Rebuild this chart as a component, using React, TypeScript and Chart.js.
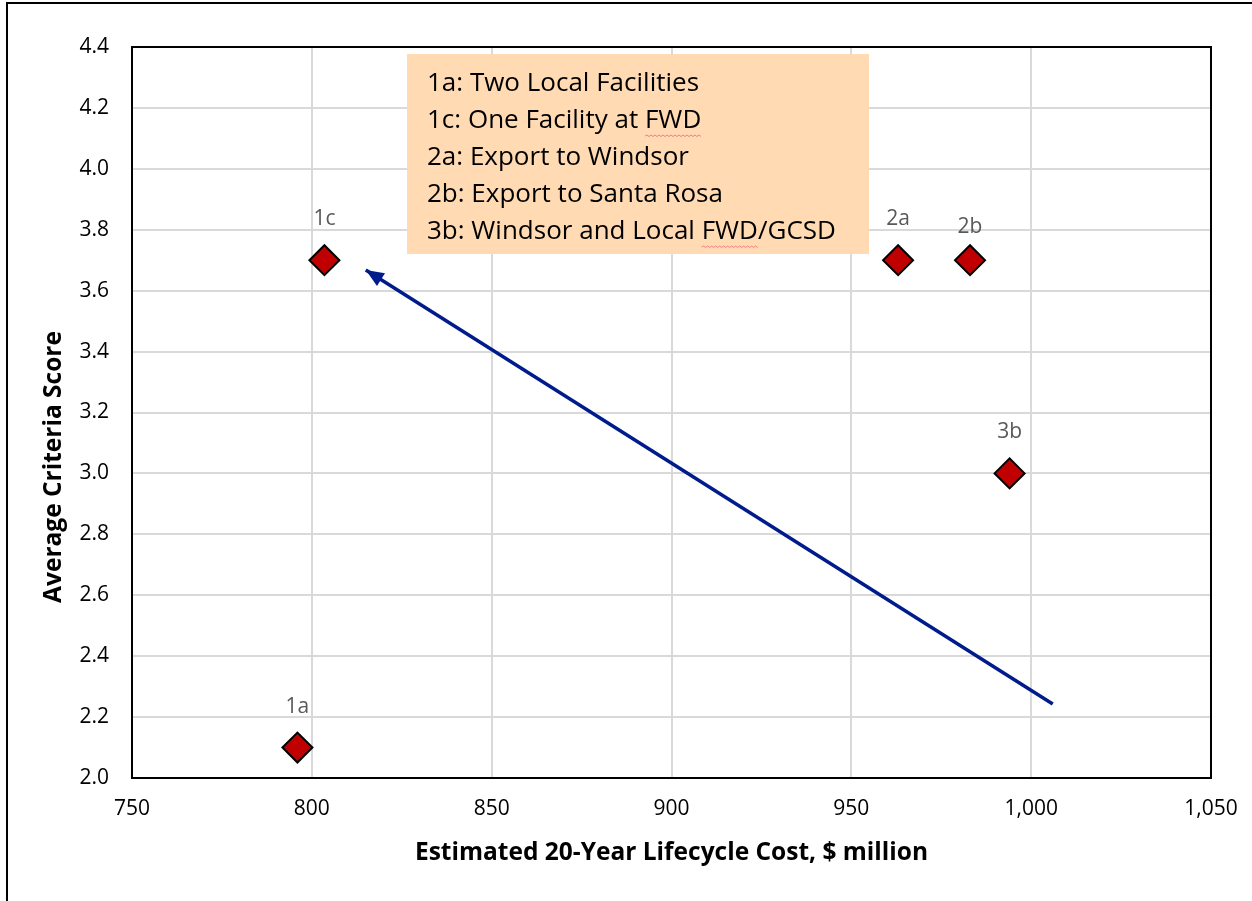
import { useEffect, useRef } from "react";
import { Chart, registerables } from "chart.js";

Chart.register(...registerables);

// Alternatives: code, estimated 20-year lifecycle cost ($ million), average criteria score
const optionCodes = ["1a", "1c", "2a", "2b", "3b"];
const lifecycleCost = [796, 803.5, 963, 983, 994];
const criteriaScore = [2.1, 3.7, 3.7, 3.7, 3.0];

// Text box listing the alternatives
const legendLines = [
  "1a: Two Local Facilities",
  "1c: One Facility at FWD",
  "2a: Export to Windsor",
  "2b: Export to Santa Rosa",
  "3b: Windsor and Local FWD/GCSD",
];

// Trend arrow, tail then head, in axis units
const arrowCost = [1006, 815];
const arrowScore = [2.243, 3.668];

// Axis ranges and steps
const xRange = [750, 1050];
const xStep = 50;
const yRange = [2.0, 4.4];
const yStep = 0.2;

const FONT = "'Open Sans', 'Noto Sans', sans-serif";
const GRID = "#D9D9D9";
const MARKER_FILL = "#C00000";
const ARROW_COLOR = "#001C8C";
const LABEL_COLOR = "#595959";
const BOX_FILL = "#FFDAB3";

// Per-label vertical gap above its marker (px)
const labelGap: Record<string, number> = { "2b": 33 };
const DEFAULT_LABEL_GAP = 41;

const framePlugin = {
  id: "frame",
  beforeDraw(chart: any) {
    const { ctx, width, height } = chart;
    ctx.save();
    ctx.fillStyle = "#fff";
    ctx.fillRect(0, 0, width, height);
    ctx.strokeStyle = "#000";
    ctx.lineWidth = 2;
    ctx.beginPath();
    ctx.moveTo(7, height);
    ctx.lineTo(7, 3);
    ctx.lineTo(width, 3);
    ctx.stroke();
    ctx.restore();
  },
  beforeDatasetsDraw(chart: any) {
    const { ctx, chartArea: a } = chart;
    ctx.save();
    ctx.strokeStyle = "#000";
    ctx.lineWidth = 2;
    ctx.strokeRect(a.left, a.top, a.right - a.left, a.bottom - a.top);
    ctx.restore();
  },
};

const arrowHeadPlugin = {
  id: "arrowHead",
  afterDatasetsDraw(chart: any) {
    const meta = chart.getDatasetMeta(1);
    const pts = meta.data;
    if (!pts || pts.length < 2) return;
    const tail = pts[0];
    const head = pts[1];
    const ang = Math.atan2(head.y - tail.y, head.x - tail.x);
    const len = 18;
    const half = 7.5;
    const { ctx } = chart;
    ctx.save();
    ctx.translate(head.x, head.y);
    ctx.rotate(ang);
    ctx.fillStyle = ARROW_COLOR;
    ctx.beginPath();
    ctx.moveTo(0, 0);
    ctx.lineTo(-len, -half);
    ctx.lineTo(-len, half);
    ctx.closePath();
    ctx.fill();
    ctx.restore();
  },
};

const pointLabelPlugin = {
  id: "pointLabels",
  afterDatasetsDraw(chart: any) {
    const meta = chart.getDatasetMeta(0);
    const { ctx } = chart;
    ctx.save();
    ctx.font = `21px ${FONT}`;
    ctx.fillStyle = LABEL_COLOR;
    ctx.textAlign = "center";
    ctx.textBaseline = "middle";
    meta.data.forEach((el: any, i: number) => {
      const code = optionCodes[i];
      const gap = labelGap[code] ?? DEFAULT_LABEL_GAP;
      ctx.fillText(code, el.x, el.y - gap);
    });
    ctx.restore();
  },
};

const squiggle = (ctx: any, x0: number, x1: number, y: number) => {
  ctx.beginPath();
  let up = true;
  ctx.moveTo(x0, y);
  for (let x = x0 + 2; x <= x1; x += 2) {
    ctx.lineTo(x, up ? y - 1 : y + 0.5);
    up = !up;
  }
  ctx.stroke();
};

const textBoxPlugin = {
  id: "textBox",
  afterDraw(chart: any) {
    const { ctx } = chart;
    const box = { x: 407, y: 54, w: 462, h: 200 };
    ctx.save();
    ctx.fillStyle = BOX_FILL;
    ctx.fillRect(box.x, box.y, box.w, box.h);
    ctx.font = `26px ${FONT}`;
    ctx.fillStyle = "#000";
    ctx.textAlign = "left";
    ctx.textBaseline = "middle";
    const x = 427;
    legendLines.forEach((line, i) => {
      const y = 84 + i * 37;
      ctx.fillText(line, x, y);
      const idx = line.indexOf("FWD");
      if (idx >= 0) {
        const start = x + ctx.measureText(line.slice(0, idx)).width;
        const end = start + ctx.measureText("FWD").width;
        ctx.strokeStyle = "#F08080";
        ctx.lineWidth = 1;
        squiggle(ctx, start, end, y + 15);
      }
    });
    ctx.restore();

    // vertical axis title
    ctx.save();
    ctx.font = `bold 24.5px ${FONT}`;
    ctx.fillStyle = "#000";
    ctx.textAlign = "center";
    ctx.textBaseline = "middle";
    ctx.translate(54, 467);
    ctx.rotate(-Math.PI / 2);
    ctx.fillText("Average Criteria Score", 0, 0);
    ctx.restore();
  },
};

export default function App() {
  const canvasRef = useRef<HTMLCanvasElement | null>(null);

  useEffect(() => {
    const canvas = canvasRef.current;
    if (!canvas) return;
    const chart = new Chart(canvas, {
      type: "scatter",
      data: {
        datasets: [
          {
            label: "Alternatives",
            data: lifecycleCost.map((c, i) => ({ x: c, y: criteriaScore[i] })),
            pointStyle: "rectRot",
            pointRadius: 15,
            pointHoverRadius: 15,
            backgroundColor: MARKER_FILL,
            borderColor: "#000",
            borderWidth: 2,
          },
          {
            label: "Trend",
            type: "line",
            data: arrowCost.map((c, i) => ({ x: c, y: arrowScore[i] })),
            showLine: true,
            borderColor: ARROW_COLOR,
            borderWidth: 3.5,
            pointRadius: 0,
            fill: false,
          },
        ],
      },
      options: {
        responsive: false,
        animation: false,
        events: [],
        layout: { padding: { top: 47, right: 41, bottom: 0, left: 0 } },
        plugins: {
          legend: { display: false },
          tooltip: { enabled: false },
        },
        scales: {
          x: {
            type: "linear",
            min: xRange[0],
            max: xRange[1],
            afterFit: (s: any) => {
              s.height = 123;
              s.paddingLeft = 0;
              s.paddingRight = 0;
            },
            ticks: {
              stepSize: xStep,
              color: "#000",
              font: { family: FONT, size: 21 },
              padding: 18,
              callback: (v: any) => Number(v).toLocaleString("en-US"),
            },
            grid: { color: GRID, lineWidth: 2, drawTicks: false },
            border: { display: false },
            title: {
              display: true,
              text: "Estimated 20-Year Lifecycle Cost, $ million",
              color: "#000",
              font: { family: FONT, size: 24.5, weight: "bold" },
              padding: { top: 0, bottom: 33 },
            },
          },
          y: {
            type: "linear",
            min: yRange[0],
            max: yRange[1],
            afterFit: (s: any) => {
              s.width = 132;
              s.paddingTop = 0;
              s.paddingBottom = 0;
            },
            ticks: {
              stepSize: yStep,
              color: "#000",
              font: { family: FONT, size: 21 },
              padding: 23,
              callback: (v: any) => Number(v).toFixed(1),
            },
            grid: { color: GRID, lineWidth: 2, drawTicks: false },
            border: { display: false },
          },
        },
      },
      plugins: [framePlugin, arrowHeadPlugin, pointLabelPlugin, textBoxPlugin],
    });
    return () => chart.destroy();
  }, []);

  return (
    <div style={{ position: "absolute", left: 0, top: 0, width: 1252, height: 901, background: "#fff" }}>
      <canvas ref={canvasRef} width={1252} height={901} style={{ display: "block" }} />
    </div>
  );
}
